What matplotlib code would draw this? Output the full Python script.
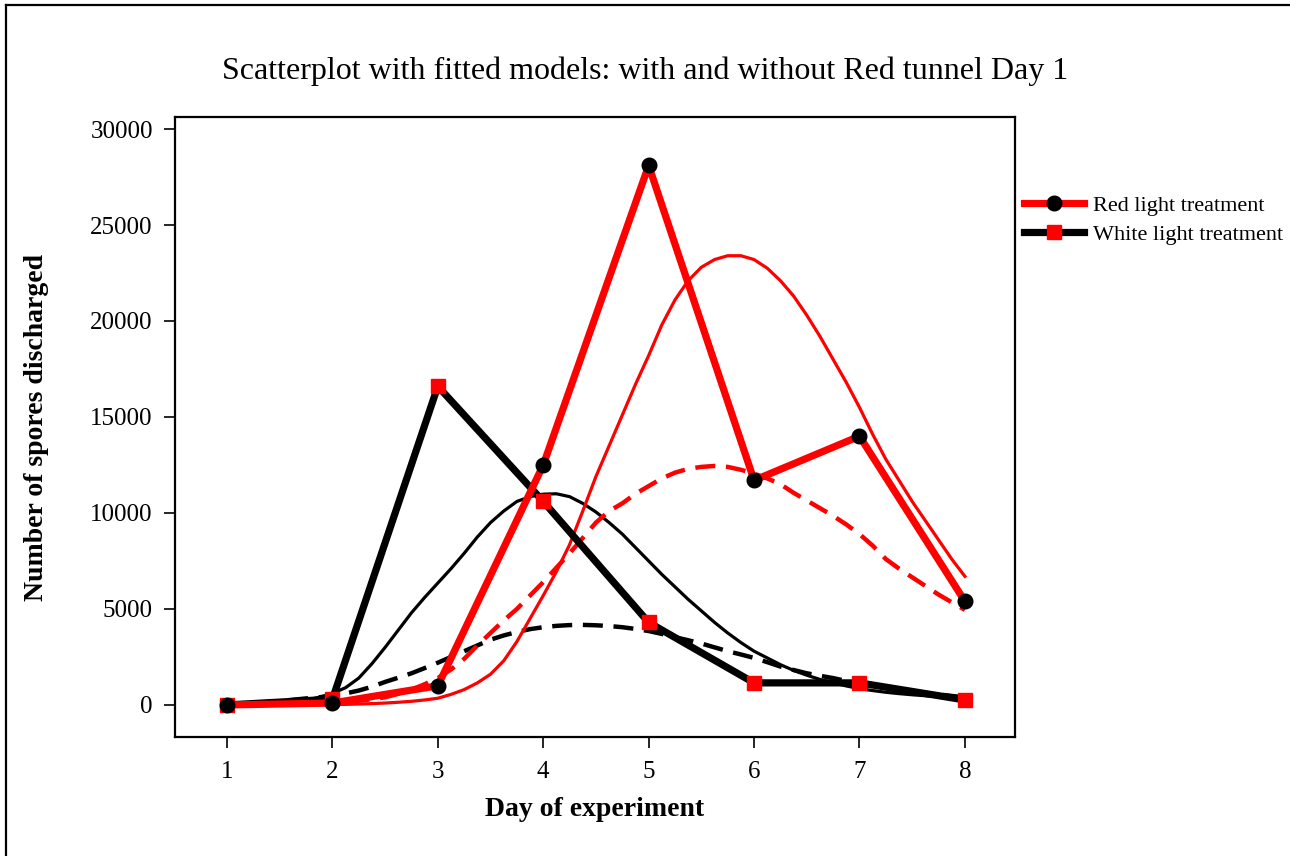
import numpy as np
import matplotlib.pyplot as plt
from matplotlib.lines import Line2D

plt.rcParams['font.family'] = ['Liberation Serif', 'DejaVu Serif']

# observed data
days = [1, 2, 3, 4, 5, 6, 7, 8]
red_light = [0, 100, 1000, 12500, 28100, 11700, 14000, 5400]
white_light = [0, 300, 16600, 10600, 4300, 1150, 1150, 260]

# fitted model curves, every 1/8 day
fit_days = [1 + i / 8 for i in range(57)]
red_fit_solid = [0, 0, 0, 0, 0, 5, 10, 15,
                 20, 30, 50, 70, 100, 140, 190, 260,
                 350, 550, 800, 1150, 1600, 2300, 3300, 4500,
                 5700, 6950, 8350, 10100, 11900, 13500, 15100, 16700,
                 18200, 19800, 21100, 22100, 22800, 23200, 23400, 23400,
                 23200, 22750, 22100, 21300, 20300, 19200, 18000, 16800,
                 15500, 14100, 12800, 11700, 10600, 9600, 8600, 7600,
                 6700]
red_fit_dash = [0, 5, 10, 15, 30, 45, 60, 80,
                100, 150, 220, 300, 400, 580, 800, 1080,
                1400, 1850, 2400, 3100, 3750, 4400, 5000, 5700,
                6400, 7150, 7900, 8700, 9500, 10100, 10500, 11000,
                11400, 11800, 12100, 12300, 12400, 12450, 12400, 12250,
                12050, 11800, 11500, 11050, 10650, 10250, 9850, 9400,
                8900, 8300, 7600, 7100, 6650, 6200, 5750, 5350,
                4950]
white_fit_solid = [20, 30, 50, 70, 100, 160, 250, 400,
                   600, 900, 1400, 2150, 3000, 3900, 4800, 5600,
                   6350, 7100, 7900, 8750, 9500, 10100, 10600, 10850,
                   10980, 11000, 10850, 10500, 10050, 9500, 8900, 8200,
                   7500, 6800, 6150, 5500, 4900, 4300, 3750, 3250,
                   2800, 2450, 2100, 1800, 1550, 1330, 1150, 990,
                   850, 750, 660, 590, 530, 480, 430, 380,
                   340]
white_fit_dash = [50, 70, 100, 150, 200, 270, 340, 400,
                  470, 600, 750, 950, 1200, 1420, 1650, 1920,
                  2200, 2500, 2800, 3100, 3400, 3620, 3800, 3950,
                  4050, 4120, 4160, 4170, 4150, 4110, 4050, 3960,
                  3850, 3700, 3530, 3370, 3200, 3000, 2800, 2630,
                  2450, 2230, 2000, 1820, 1650, 1520, 1400, 1250,
                  1100, 1000, 900, 800, 700, 620, 550, 470,
                  400]

fig = plt.figure(figsize=(12.9, 8.56), dpi=100)
ax = fig.add_axes([0.1357, 0.139, 0.651, 0.7243])

# fitted curves
dash = (0, (4.5, 2.4))
ax.plot(fit_days, white_fit_solid, color='black', lw=2.3, zorder=2)
ax.plot(fit_days, white_fit_dash, color='black', lw=3.2, ls=dash, zorder=2)
ax.plot(fit_days, red_fit_solid, color='red', lw=2.3, zorder=2)
ax.plot(fit_days, red_fit_dash, color='red', lw=3.2, ls=dash, zorder=2)

# observed
ax.plot(days, white_light, color='black', lw=5.2, zorder=3)
ax.plot(days, red_light, color='red', lw=5.2, zorder=4)
ax.plot(days, white_light, ls='none', marker='s', ms=10, color='red', zorder=5)
ax.plot(days, red_light, ls='none', marker='o', ms=10.5, color='black', zorder=6)

ax.set_xlim(0.507, 8.474)
ax.set_ylim(-1670, 30625)
ax.set_xticks(days)
ax.set_yticks([0, 5000, 10000, 15000, 20000, 25000, 30000])
ax.tick_params(direction='out', length=8, width=1.2, labelsize=18)
ax.tick_params(axis='x', pad=9)
ax.tick_params(axis='y', pad=8)
for s in ax.spines.values():
    s.set_linewidth(1.6)

ax.set_xlabel('Day of experiment', fontsize=20, fontweight='bold', labelpad=10)
ax.set_ylabel('Number of spores discharged', fontsize=20, fontweight='bold', labelpad=30)
fig.text(0.5, 0.917, 'Scatterplot with fitted models: with and without Red tunnel Day 1',
         ha='center', va='center', fontsize=23)

handles = [Line2D([], [], color='red', lw=5.2, marker='o', ms=10.5,
                  markerfacecolor='black', markeredgecolor='black'),
           Line2D([], [], color='black', lw=5.2, marker='s', ms=10,
                  markerfacecolor='red', markeredgecolor='red')]
fig.legend(handles, ['Red light treatment', 'White light treatment'],
           loc='upper left', bbox_to_anchor=(0.7785, 0.795), frameon=False,
           fontsize=16, handlelength=2.7, handletextpad=0.4, labelspacing=0.36)

# outer frame (left and top edges)
fig.add_artist(Line2D([6/1290, 6/1290], [0, 1 - 5/856], color='black', lw=1.6,
                      transform=fig.transFigure))
fig.add_artist(Line2D([6/1290, 1], [1 - 5/856, 1 - 5/856], color='black', lw=1.6,
                      transform=fig.transFigure))

fig.savefig('out.png', dpi=100)
